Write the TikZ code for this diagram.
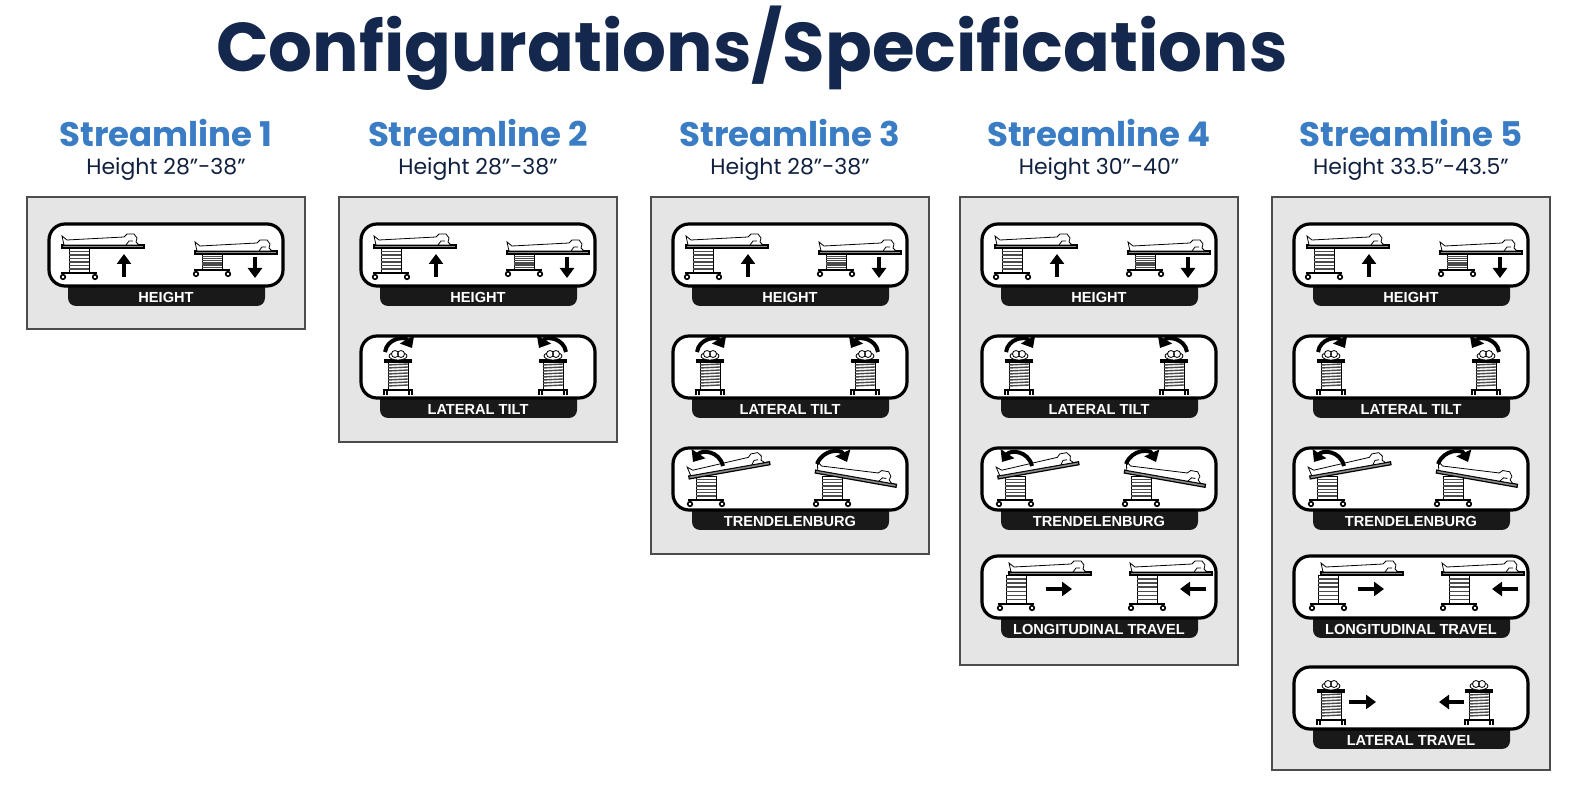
\documentclass[tikz,border=0pt]{standalone}
\usepackage{fontspec}
\setmainfont{Liberation Sans}
\newfontfamily\pop{Poppins}
\usetikzlibrary{arrows.meta}
\definecolor{navy}{HTML}{14284D}
\definecolor{sblue}{HTML}{3B7DC4}
\definecolor{panelgray}{HTML}{E5E5E5}
\tikzset{
 panel/.style={fill=panelgray,draw=black!70,line width=0.8pt},
 card/.style={fill=white,draw=black,line width=1.6pt,rounded corners=8},
 tab/.style={fill=black!90,rounded corners=4},
 tabtext/.style={text=white,font=\bfseries\fontsize{7.3}{8}\selectfont},
 sline/.style={line width=0.4pt},
 bigarrow/.style={line width=2.4pt,-{Triangle[length=5pt,width=7pt]}},
 curvarrow/.style={line width=2pt,-{Triangle[length=5pt,width=8pt]}},
 title/.style={font=\pop\bfseries\fontsize{34.5}{38}\selectfont,text=navy},
 stitle/.style={font=\pop\bfseries\fontsize{17}{20}\selectfont,text=sblue},
 ssub/.style={font=\pop\fontsize{11}{13}\selectfont,text=navy!80!black},
}
% side-view table: x, y (column top), column height, bed angle, bed shift
\newcommand\sideunit[5]{%
 \begin{scope}[shift={(#1,#2)}]
  \draw[sline,fill=white] (-10,0) rectangle (10,#3);
  \foreach \f in {0.14,0.28,...,0.95} \draw[line width=0.7pt,black!70] (-10,{\f*#3}) -- (10,{\f*#3});
  \draw[line width=1.4pt] (-18,#3) -- (18,#3);
  \draw[line width=0.8pt] (-16,#3) -- (-16,{#3+2}) (16,#3) -- (16,{#3+2});
  \draw[line width=0.8pt,fill=white] (-16,{#3+4}) circle (2.3) (16,{#3+4}) circle (2.3);
  \begin{scope}[xshift=#5*0.5pt,rotate=#4]
   \draw[line width=0.6pt,fill=black!45] (-17,-3) rectangle (65,0);
   \draw[sline,fill=white] (-15,-3) -- (-17,-12) -- (-12,-8) -- (45,-11) -- (48,-14) -- (55,-14) -- (58,-10) -- (57,-6) -- (60,-3) -- cycle;
   \draw[sline] (47,-3) -- (50,-7) -- (54,-7);
  \end{scope}
 \end{scope}}
% end-view table: x, y (column top)
\newcommand\eunit[2]{%
 \begin{scope}[shift={(#1,#2)}]
  \draw[sline,fill=white] (-10,0) rectangle (10,28);
  \foreach \t in {3,6,...,25} \draw[line width=0.7pt,black!70] (-10,\t) -- (10,{\t-1});
  \draw[line width=0.8pt,fill=black!40] (-13,-2) rectangle (13,0);
  \draw[sline,fill=white] (0,-6) ellipse (9 and 4);
  \draw[sline,fill=white] (-3,-8) circle (3.5) (3,-8) circle (3.5);
  \draw[line width=1.2pt] (-15,28) -- (15,28);
  \draw[line width=1pt] (-14,28) -- (-14,33) (14,28) -- (14,33) (-11,28) -- (-11,33) (11,28) -- (11,33);
 \end{scope}}
\newcommand\cardframe[3]{% x y label
 \fill[tab] (#1+19,#2+55) rectangle (#1+216,#2+82);
 \draw[card] (#1,#2) rectangle (#1+234,#2+62);
 \node[tabtext] at (#1+117,#2+73) {#3};}
\newcommand\cHeight[3]{\begin{scope}[shift={(#1,#2)}]
 \cardframe{0}{0}{HEIGHT}
 \sideunit{30}{24}{25}{0}{0}
 \sideunit{163}{30}{16}{0}{0}
 \draw[bigarrow] (75,53) -- (75,30);
 \draw[bigarrow] (206,33) -- (206,54);
 \end{scope}}
\newcommand\cTilt[3]{\begin{scope}[shift={(#1,#2)}]
 \cardframe{0}{0}{LATERAL TILT}
 \eunit{37}{26}
 \eunit{192}{26}
 \draw[curvarrow] (24,16) .. controls (26,2) and (44,0) .. (51,12);
 \draw[curvarrow] (205,16) .. controls (203,2) and (185,0) .. (178,12);
 \end{scope}}
\newcommand\cTrend[3]{\begin{scope}[shift={(#1,#2)}]
 \cardframe{0}{0}{TRENDELENBURG}
 \sideunit{33}{28}{24}{10}{0}
 \sideunit{159}{28}{24}{-10}{0}
 \draw[curvarrow] (50,18) .. controls (46,2) and (28,2) .. (20,14);
 \draw[curvarrow] (144,16) .. controls (150,1) and (168,1) .. (174,14);
 \end{scope}}
\newcommand\cLong[3]{\begin{scope}[shift={(#1,#2)}]
 \cardframe{0}{0}{LONGITUDINAL TRAVEL}
 \sideunit{34}{19}{29}{0}{10}
 \sideunit{165}{19}{29}{0}{0}
 \draw[bigarrow] (64,33) -- (90,33);
 \draw[bigarrow] (224,33) -- (198,33);
 \end{scope}}
\newcommand\cLatT[3]{\begin{scope}[shift={(#1,#2)}]
 \cardframe{0}{0}{LATERAL TRAVEL}
 \eunit{37}{25}
 \eunit{185}{25}
 \draw[bigarrow] (55,35) -- (82,35);
 \draw[bigarrow] (170,35) -- (145,35);
 \end{scope}}
\begin{document}
\begin{tikzpicture}[x=0.5pt,y=-0.5pt]
\useasboundingbox[fill=white] (0,0) rectangle (1587,806);
\node[title] (T) at (752,48) {Configurations/Specifications};
% panels
\foreach \i/\px/\bot/\h in {1/27/329/28”-38”,2/339/442/28”-38”,3/651/554/28”-38”,4/960/665/30”-40”,5/1272/770/33.5”-43.5”}{
 \draw[panel] (\px,197) rectangle (\px+278,\bot);
 \node[stitle] (s\i) at (\px+139,133) {Streamline \i};
 \node[ssub] (h\i) at (\px+139,169) {Height \h};
}
\foreach \px in {27,339,651,960,1272} \cHeight{\px+22}{224}{};
\foreach \px in {339,651,960,1272} \cTilt{\px+22}{336}{};
\foreach \px in {651,960,1272} \cTrend{\px+22}{448}{};
\foreach \px in {960,1272} \cLong{\px+22}{556}{};
\cLatT{1294}{667}{}
\end{tikzpicture}
\end{document}
